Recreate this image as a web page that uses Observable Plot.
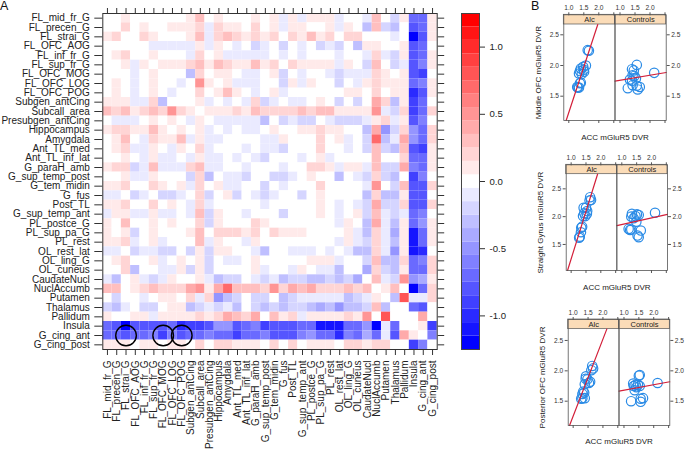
<!DOCTYPE html>
<html>
<head>
<meta charset="utf-8">
<script src="https://cdn.jsdelivr.net/npm/d3@7"></script>
<script src="https://cdn.jsdelivr.net/npm/@observablehq/plot@0.6"></script>
<style>
html,body{margin:0;padding:0;background:#fff;}
#fig{position:relative;width:685px;height:449px;overflow:hidden;font-family:"Liberation Sans",Arial,sans-serif;}
#fig svg{position:absolute;background:transparent;}
.tag{position:absolute;font-size:12.5px;color:#111;line-height:1;}
</style>
</head>
<body>
<div id="fig"></div>
<script>
const regions = ["FL_mid_fr_G","FL_precen_G","FL_strai_G","FL_OFC_AOG","FL_inf_fr_G","FL_sup_fr_G","FL_OFC_MOG","FL_OFC_LOG","FL_OFC_POG","Subgen_antCing","Subcall_area","Presubgen_antCing","Hippocampus","Amygdala","Ant_TL_med","Ant_TL_inf_lat","G_paraH_amb","G_sup_temp_post","G_tem_midin","G_fus","Post_TL","G_sup_temp_ant","PL_postce_G","PL_sup_pa_G","PL_rest","OL_rest_lat","OL_ling_G","OL_cuneus","CaudateNucl","NuclAccumb","Putamen","Thalamus","Pallidum","Insula","G_cing_ant","G_cing_post"];

// upper triangle of the symmetric matrix, in tenths; row i holds columns i..35
const upperTenths = [
[0,0,1,0,0,0,0,0,0,1,3,0,1,0,0,0,1,0,1,-1,1,-1,1,1,1,-1,0,0,-1,3,0,-2,1,-7,-7,1],
[0,2,0,1,0,0,1,1,1,2,-1,2,1,1,0,2,0,1,-1,1,1,0,0,1,-1,1,0,-3,3,-2,-3,0,-8,-7,1],
[0,0,2,1,0,0,0,1,3,-1,2,3,2,1,2,1,2,0,2,1,3,1,2,0,2,2,0,0,0,-1,0,-12,-8,1],
[0,0,-1,-1,-1,-1,-1,1,-1,1,0,-1,0,-2,-1,0,-2,0,-1,0,-2,-1,-2,0,-3,1,1,0,0,1,-8,-7,0],
[0,1,0,0,0,-1,2,0,1,-1,-1,-1,-1,-1,0,-1,0,-1,0,0,0,-1,0,0,-1,2,-1,-2,1,-8,-7,1],
[0,1,1,1,2,3,1,3,2,1,1,3,1,2,0,2,1,1,1,1,-1,1,0,-2,3,0,-2,-1,-8,-6,1],
[0,0,0,-3,2,0,1,1,0,-1,-1,0,1,-2,0,-1,0,0,-1,-2,-1,-1,-1,2,1,0,1,-8,-9,0],
[0,-1,0,5,1,0,1,-1,-1,-1,0,0,-2,1,-1,1,0,0,-2,0,-1,1,2,1,1,1,-7,-6,1],
[0,0,2,0,1,3,1,0,-1,0,1,-1,0,0,0,0,0,0,1,1,0,2,0,1,1,-10,-8,1],
[0,1,-1,0,-1,0,-1,2,-2,-1,0,-1,-1,0,1,0,-2,0,-2,0,4,2,-3,1,-9,-7,0],
[0,1,1,1,2,1,3,2,2,2,2,3,2,3,3,1,1,1,1,5,-1,-2,2,-9,-7,2],
[0,-1,-1,-1,-1,-1,-3,0,-2,-1,-2,-2,0,-1,-2,-2,-2,-1,1,2,-1,1,-8,-6,0],
[0,-1,0,-1,-1,0,1,0,0,1,1,2,1,1,0,0,-3,4,-5,-2,2,-5,-7,2],
[0,0,0,0,-1,-1,1,0,0,0,2,0,1,-1,0,-2,7,-3,-1,4,-5,-7,2],
[0,-1,0,-1,-1,-2,0,0,0,2,0,0,-1,0,-2,3,-2,-3,3,-8,-9,1],
[0,-1,-2,0,0,0,-1,0,1,-1,0,0,0,0,3,0,0,2,-7,-7,1],
[0,0,0,-1,0,0,2,2,1,-1,1,1,-1,3,-2,-2,4,-6,-7,1],
[0,-2,-2,-1,0,1,0,0,-3,0,-1,-2,2,-2,-3,0,-9,-6,0],
[0,-1,0,0,0,2,0,0,0,0,-1,5,0,-2,3,-8,-8,2],
[0,0,-2,0,1,0,0,0,0,-3,2,-3,-3,1,-8,-8,0],
[0,0,0,1,0,-1,0,-1,-2,4,-2,-2,2,-8,-8,2],
[0,0,1,0,-1,0,1,-2,3,-1,-2,-1,-7,-6,0],
[0,0,0,-1,1,0,-3,4,-1,-3,1,-7,-5,1],
[0,0,0,1,-1,-3,2,-1,-4,1,-11,-7,1],
[0,-1,1,-1,-2,2,-1,-3,1,-11,-7,1],
[0,-1,-3,-3,2,-1,-5,1,-11,-10,0],
[0,0,-2,3,-3,-3,2,-7,-6,2],
[0,-4,2,-2,-3,1,-7,-7,2],
[0,3,-1,-2,5,-5,-4,1],
[0,1,3,0,-12,-7,2],
[0,-3,8,-1,-1,2],
[0,0,-7,-8,0],
[0,0,4,0],
[0,1,-9],
[0,-6],
[0]
];
const circledRegions = ["FL_strai_G","FL_OFC_MOG","FL_OFC_POG"];
const circledRow = "G_cing_ant";

const colorLevels = d3.range(-12, 13);
const colorTicks = [-1, -0.5, 0, 0.5, 1];

// lattice panels: [ACC, region] pairs
const midAlc = [[1.67,2.24],[1.63,2.25],[1.57,2.0],[1.48,1.98],[1.40,1.95],[1.37,1.91],[1.51,1.90],[1.34,1.87],[1.43,1.86],[1.50,1.93],[1.40,1.72],[1.37,1.71],[1.30,1.64],[1.34,1.64],[1.28,1.65]];
const midCtl = [[1.56,2.01],[1.40,1.94],[1.46,1.92],[1.42,1.84],[1.48,1.83],[1.33,1.77],[1.40,1.75],[1.53,1.79],[1.42,1.68],[1.56,1.67],[1.66,1.65],[1.59,1.61],[1.26,1.63],[2.14,1.88]];
const midFitAlc = [[0.912,1.104],[1.966,2.668]];
const midFitCtl = [[0.833,1.745],[2.54,1.886]];

const strAlc = [[1.64,2.35],[1.67,2.30],[1.62,2.29],[1.42,2.16],[1.50,2.16],[1.54,2.10],[1.44,2.06],[1.53,2.05],[1.40,2.01],[1.48,2.01],[1.37,1.82],[1.34,1.80],[1.33,1.72],[1.29,1.64],[1.27,1.62]];
const strCtl = [[1.34,2.05],[1.51,2.04],[1.57,2.03],[1.46,2.01],[1.32,2.0],[1.40,1.97],[1.49,1.91],[2.12,2.07],[1.23,1.78],[1.32,1.77],[1.64,1.75],[1.53,1.66],[1.57,1.63],[1.28,1.76]];
const strFitAlc = [[0.878,1.032],[1.89,2.763]];
const strFitCtl = [[0.833,1.84],[2.54,2.04]];

const posAlc = [[1.64,2.08],[1.67,2.04],[1.61,2.01],[1.43,1.91],[1.42,1.87],[1.48,1.86],[1.57,1.82],[1.53,1.80],[1.39,1.78],[1.34,1.66],[1.37,1.64],[1.31,1.62],[1.39,1.55],[1.31,1.55],[1.27,1.54]];
const posCtl = [[1.50,1.92],[1.53,1.93],[1.31,1.79],[1.39,1.77],[1.47,1.77],[1.33,1.75],[1.36,1.68],[2.13,1.80],[1.24,1.50],[1.56,1.49],[1.64,1.55],[1.56,1.54],[1.53,1.75],[1.42,1.73]];
const posFitAlc = [[0.878,1.10],[2.13,2.686]];
const posFitCtl = [[0.833,1.665],[2.54,1.82]];

const groups = ["Alc","Controls"];
const xTitle = "ACC mGluR5 DVR";

const fig = document.getElementById("fig");
function place(el, left, top){ el.style.left = left+"px"; el.style.top = top+"px"; fig.appendChild(el); return el; }
const colorScale = {type:"linear", domain:[-1.2,0,1.2], range:["#0000ff","#ffffff","#ff0000"], interpolate:"rgb"};
const ink = "#222";

// ---- heatmap
const cells = [];
upperTenths.forEach((row,i)=>row.forEach((t,k)=>{
  const j=i+k;
  cells.push({a:regions[i],b:regions[j],v:t/10});
  if(i!==j) cells.push({a:regions[j],b:regions[i],v:t/10});
}));
const axisFont = 10;
place(Plot.plot({
  width:450,height:449,marginLeft:102.3,marginTop:13,marginRight:13.3,marginBottom:100,
  style:{fontFamily:"'Liberation Sans',Arial,sans-serif",color:ink,background:"transparent"},
  x:{domain:regions,padding:0,round:false,label:null},
  y:{domain:regions,padding:0,round:false,label:null},
  color:colorScale,
  marks:[
    Plot.cell(cells,{x:"b",y:"a",fill:"v"}),
    Plot.frame({stroke:"#333"}),
    Plot.dot(circledRegions,{x:d=>d,y:()=>circledRow,r:10.3,stroke:"#000",strokeWidth:1.4,fill:"none"}),
    Plot.axisY({anchor:"left",tickSize:8,tickPadding:5,fontSize:axisFont,label:null,stroke:"#333"}),
    Plot.axisY({anchor:"right",tickSize:6.5,tickFormat:()=>"",label:null,stroke:"#333"}),
    Plot.axisX({anchor:"top",tickSize:6,tickFormat:()=>"",label:null,stroke:"#333"}),
    Plot.axisX({anchor:"bottom",tickSize:6,tickPadding:5,tickRotate:-90,fontSize:axisFont,label:null,stroke:"#333"})
  ]
}),0,0);

// ---- colour key
place(Plot.plot({
  width:60,height:449,marginLeft:11,marginRight:31,marginTop:13,marginBottom:100,
  style:{fontFamily:"'Liberation Sans',Arial,sans-serif",color:ink,background:"transparent"},
  x:{axis:null,domain:[0,1]},
  y:{domain:[-1.25,1.25],label:null},
  color:colorScale,
  marks:[
    Plot.rect(colorLevels,{x1:()=>0,x2:()=>1,y1:k=>(k-0.5)/10,y2:k=>(k+0.5)/10,fill:k=>k/10}),
    Plot.frame({stroke:"#444"}),
    Plot.axisY(colorTicks,{anchor:"right",tickSize:5,tickPadding:5,fontSize:9.6,tickFormat:d=>d.toFixed(1),label:null,stroke:"#333"})
  ]
}),450,0);

// ---- lattice panels
function lattice(o){
  const pts = [
    ...o.alc.map(p=>({g:"Alc",x:p[0],y:p[1]})),
    ...o.ctl.map(p=>({g:"Controls",x:p[0],y:p[1]}))
  ];
  const fit = [
    ...o.fitAlc.map(p=>({g:"Alc",x:p[0],y:p[1]})),
    ...o.fitCtl.map(p=>({g:"Controls",x:p[0],y:p[1]}))
  ];
  const strip = groups.map(g=>({g}));
  const ts = 6.6;
  const el = Plot.plot({
    width:165,height:149,marginLeft:o.left,marginRight:165-o.right,marginTop:o.top,marginBottom:o.bottom,
    style:{fontFamily:"'Liberation Sans',Arial,sans-serif",color:"#333",background:"transparent"},
    fx:{domain:groups,padding:0,round:false,axis:null,label:null},
    x:{domain:[0.833,2.54],label:null},
    y:{domain:o.y,label:null},
    marks:[
      Plot.rect(strip,{fx:"g",x1:()=>0.833,x2:()=>2.54,y1:()=>o.stripLow,y2:()=>o.y[1],fill:"#fbdcb8",stroke:"#555",strokeWidth:0.7}),
      Plot.text(strip,{fx:"g",x:()=>1.69,y:()=>(o.stripLow+o.y[1])/2,text:"g",fontSize:7.5,fill:"#222"}),
      Plot.dot(pts,{fx:"g",x:"x",y:"y",r:4.7,stroke:"#2a8be6",strokeWidth:1.2}),
      Plot.line(fit,{fx:"g",x:"x",y:"y",z:"g",stroke:"#d3203a",strokeWidth:1.2}),
      Plot.frame({stroke:"#555",strokeWidth:0.8}),
      Plot.axisX([1,1.5,2,2.5],{anchor:"top",tickSize:3,tickPadding:2,fontSize:ts,tickFormat:d=>d<2.5?d.toFixed(1):"",label:null,stroke:"#555"}),
      Plot.axisX([1,1.5,2,2.5],{anchor:"bottom",tickSize:3,tickFormat:()=>"",label:null,stroke:"#555"}),
      Plot.axisY([1.5,2,2.5],{anchor:"left",tickSize:3,tickPadding:2,fontSize:ts,tickFormat:d=>d.toFixed(1),label:null,stroke:"#555"}),
      Plot.axisY([1.5,2,2.5],{anchor:"right",tickSize:3,tickPadding:2,fontSize:ts,tickFormat:d=>d.toFixed(1),label:null,stroke:"#555"}),
      Plot.text([o.yTitle],{facet:"super",frameAnchor:"left",textAnchor:"middle",rotate:-90,dx:o.yDx,dy:o.yDy,fontSize:8,fill:"#222"}),
      Plot.text([xTitle],{facet:"super",frameAnchor:"bottom",dy:o.xDy,fontSize:8,fill:"#222"})
    ]
  });
  place(el,520,o.at);
}
lattice({at:0,left:43.3,right:145.7,top:14.3,bottom:29,y:[1.104,2.826],stripLow:2.668,alc:midAlc,ctl:midCtl,fitAlc:midFitAlc,fitCtl:midFitCtl,yTitle:"Middle OFC mGluR5 DVR",yDx:-25,yDy:5,xDy:19});
lattice({at:150,left:45.7,right:147,top:14.3,bottom:29,y:[1.032,2.932],stripLow:2.763,alc:strAlc,ctl:strCtl,fitAlc:strFitAlc,fitCtl:strFitCtl,yTitle:"Straight Gyrus mGluR5 DVR",yDx:-25.5,yDy:5,xDy:19});
lattice({at:300,left:47.7,right:149.3,top:19,bottom:24,y:[1.10,2.845],stripLow:2.686,alc:posAlc,ctl:posCtl,fitAlc:posFitAlc,fitCtl:posFitCtl,yTitle:"Posterior OFC mGluR5 DVR",yDx:-26,yDy:5,xDy:18});

// ---- figure tags
[["A",0,0],["B",531,0]].forEach(([t,l,tp])=>{
  const d=document.createElement("div");d.className="tag";d.textContent=t;place(d,l,tp);
});
</script>
</body>
</html>
